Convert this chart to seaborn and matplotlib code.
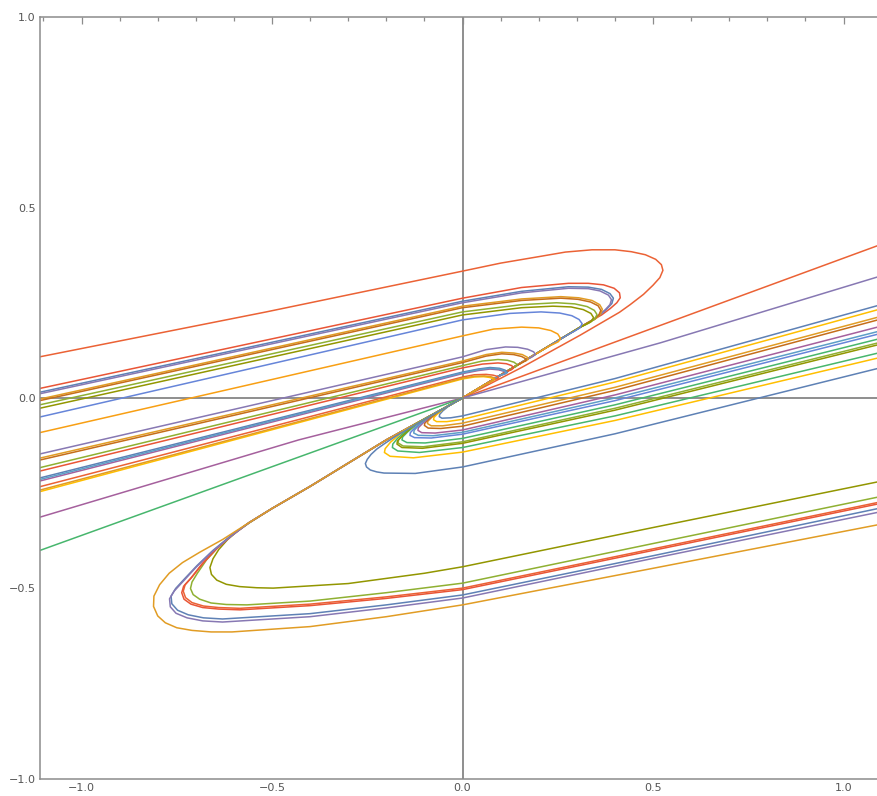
import pandas as pd
import matplotlib
matplotlib.use("Agg")
import matplotlib.pyplot as plt
from matplotlib.ticker import MultipleLocator
import seaborn as sns

# colours (Mathematica default plot palette)
BLUE, ORANGE, GREEN, RED = "#5E81B5", "#E19C24", "#8FB032", "#EB6235"
PURPLE, BROWN, CYAN, YELLOW = "#8778B3", "#C56E1A", "#5D9EC7", "#FFBF00"
MAGENTA, OLIVE, RED2, BLUE2 = "#A5609D", "#929600", "#E95536", "#6685D9"
ORANGE2, GREEN2 = "#F89F13", "#47B66D"

# upper family: arm from the left edge, hairpin on the right, back into the origin
a01 = [(-1.11, 0.108), (-0.515, 0.226), (0, 0.333), (0.1, 0.354), (0.206, 0.372), (0.27, 0.383),
       (0.34, 0.389), (0.4, 0.389), (0.443, 0.384), (0.48, 0.376), (0.507, 0.364), (0.522, 0.35),
       (0.526, 0.335), (0.518, 0.316), (0.5, 0.296), (0.475, 0.272), (0.44, 0.245), (0.412, 0.225),
       (0.309, 0.165), (0.155, 0.08), (0, 0)]
a02 = [(-1.11, 0.025), (0, 0.262), (0.155, 0.29), (0.278, 0.301), (0.33, 0.301), (0.37, 0.297),
       (0.398, 0.288), (0.412, 0.276), (0.414, 0.263), (0.405, 0.25), (0.388, 0.235), (0.365, 0.218),
       (0.309, 0.186), (0.206, 0.124), (0.103, 0.062), (0, 0)]
a03 = [(-1.11, 0.015), (0, 0.254), (0.155, 0.28), (0.278, 0.292), (0.33, 0.291), (0.365, 0.285),
       (0.387, 0.274), (0.396, 0.262), (0.392, 0.248), (0.378, 0.233), (0.35, 0.21), (0.309, 0.186),
       (0.206, 0.124), (0.103, 0.062), (0, 0)]
a03b = [(-1.11, 0.011), (0, 0.25), (0.155, 0.276), (0.278, 0.288), (0.33, 0.287), (0.361, 0.281),
        (0.383, 0.27), (0.391, 0.258), (0.387, 0.245), (0.374, 0.231), (0.348, 0.209), (0.309, 0.186),
        (0.206, 0.124), (0.103, 0.062), (0, 0)]
a04 = [(-1.11, -0.003), (0, 0.241), (0.155, 0.26), (0.258, 0.266), (0.305, 0.263), (0.34, 0.256),
       (0.36, 0.245), (0.367, 0.233), (0.362, 0.22), (0.348, 0.207), (0.33, 0.198), (0.309, 0.186),
       (0.206, 0.124), (0.103, 0.062), (0, 0)]
a04b = [(-1.11, -0.007), (0, 0.237), (0.155, 0.256), (0.258, 0.262), (0.303, 0.259), (0.336, 0.252),
        (0.356, 0.242), (0.363, 0.23), (0.358, 0.218), (0.345, 0.206), (0.33, 0.198), (0.309, 0.186),
        (0.206, 0.124), (0.103, 0.062), (0, 0)]
a05 = [(-1.11, -0.018), (0, 0.226), (0.155, 0.245), (0.247, 0.25), (0.295, 0.247), (0.327, 0.24),
       (0.346, 0.23), (0.353, 0.219), (0.347, 0.207), (0.332, 0.197), (0.309, 0.186), (0.206, 0.124),
       (0.103, 0.062), (0, 0)]
a06 = [(-1.11, -0.027), (0, 0.218), (0.155, 0.237), (0.237, 0.241), (0.285, 0.239), (0.317, 0.232),
       (0.337, 0.222), (0.344, 0.211), (0.337, 0.2), (0.322, 0.192), (0.309, 0.186), (0.206, 0.124),
       (0.103, 0.062), (0, 0)]
a07 = [(-1.11, -0.05), (0, 0.205), (0.124, 0.222), (0.206, 0.226), (0.255, 0.223), (0.287, 0.216),
       (0.306, 0.206), (0.314, 0.195), (0.308, 0.184), (0.293, 0.175), (0.278, 0.167), (0.206, 0.124),
       (0.103, 0.062), (0, 0)]
a08 = [(-1.11, -0.091), (0, 0.163), (0.082, 0.181), (0.155, 0.186), (0.2, 0.184), (0.232, 0.177),
       (0.25, 0.168), (0.257, 0.157), (0.252, 0.148), (0.238, 0.141), (0.227, 0.136), (0.103, 0.062),
       (0, 0)]
a09 = [(-1.11, -0.147), (0, 0.108), (0.062, 0.127), (0.113, 0.134), (0.145, 0.133), (0.171, 0.128),
       (0.187, 0.121), (0.191, 0.114), (0.183, 0.108), (0.165, 0.099), (0.103, 0.062), (0, 0)]
a10 = [(-1.11, -0.158), (0, 0.097), (0.062, 0.114), (0.103, 0.12), (0.135, 0.118), (0.157, 0.114),
       (0.17, 0.107), (0.172, 0.101), (0.163, 0.097), (0.103, 0.062), (0, 0)]
a10b = [(-1.11, -0.163), (0, 0.093), (0.062, 0.11), (0.103, 0.116), (0.134, 0.114), (0.155, 0.109),
        (0.166, 0.103), (0.167, 0.098), (0.158, 0.094), (0.103, 0.062), (0, 0)]
a11 = [(-1.11, -0.183), (0, 0.085), (0.052, 0.097), (0.093, 0.101), (0.118, 0.099), (0.135, 0.094),
       (0.143, 0.088), (0.141, 0.083), (0.13, 0.078), (0.103, 0.062), (0, 0)]
a12 = [(-1.11, -0.192), (0, 0.079), (0.052, 0.089), (0.093, 0.092), (0.115, 0.09), (0.129, 0.085),
       (0.134, 0.079), (0.128, 0.074), (0.115, 0.069), (0.06, 0.036), (0, 0)]
a13 = [(-1.11, -0.21), (0, 0.068), (0.041, 0.076), (0.072, 0.08), (0.097, 0.078), (0.112, 0.073),
       (0.118, 0.067), (0.112, 0.064), (0.1, 0.06), (0.06, 0.036), (0, 0)]
a13b = [(-1.11, -0.218), (0, 0.064), (0.041, 0.072), (0.072, 0.076), (0.095, 0.074), (0.109, 0.07),
        (0.114, 0.065), (0.108, 0.062), (0.098, 0.059), (0.06, 0.036), (0, 0)]
a13c = [(-1.11, -0.214), (0, 0.066), (0.041, 0.074), (0.072, 0.078), (0.096, 0.076), (0.11, 0.071),
        (0.116, 0.066), (0.11, 0.063), (0.099, 0.06), (0.06, 0.036), (0, 0)]
a14 = [(-1.11, -0.233), (0, 0.055), (0.031, 0.061), (0.062, 0.062), (0.08, 0.06), (0.091, 0.057),
       (0.095, 0.053), (0.09, 0.05), (0.08, 0.048), (0.04, 0.024), (0, 0)]
a15 = [(-1.11, -0.246), (0, 0.05), (0.031, 0.055), (0.055, 0.056), (0.071, 0.054), (0.08, 0.051),
       (0.082, 0.047), (0.076, 0.044), (0.06, 0.036), (0, 0)]
a15b = [(-1.11, -0.242), (0, 0.052), (0.031, 0.057), (0.058, 0.058), (0.074, 0.056), (0.083, 0.053),
        (0.085, 0.049), (0.078, 0.045), (0.06, 0.036), (0, 0)]

# straight lines through the origin
s_red = [(0, 0), (1.12, 0.411)]
s_purple = [(0, 0), (0.52, 0.145), (1.12, 0.327)]
s_magenta = [(-1.12, -0.316), (-0.43, -0.11), (0, 0)]
s_green = [(-1.12, -0.404), (0, 0)]

# lower-left family: down the diagonal, big hairpin, out to the right edge
c_olive = [(0, 0), (-0.2, -0.11), (-0.4, -0.232), (-0.5, -0.29), (-0.56, -0.328), (-0.59, -0.349),
           (-0.617, -0.372), (-0.64, -0.398), (-0.655, -0.422), (-0.663, -0.445), (-0.659, -0.463),
           (-0.645, -0.478), (-0.62, -0.489), (-0.585, -0.495), (-0.54, -0.498), (-0.497, -0.499),
           (-0.3, -0.487), (-0.1, -0.46), (0, -0.443), (0.5, -0.34), (1.12, -0.214)]
c_green = [(0, 0), (-0.2, -0.11), (-0.4, -0.232), (-0.5, -0.29), (-0.56, -0.327), (-0.6, -0.355),
           (-0.64, -0.39), (-0.672, -0.425), (-0.696, -0.46), (-0.71, -0.483), (-0.714, -0.5),
           (-0.707, -0.516), (-0.69, -0.528), (-0.66, -0.538), (-0.62, -0.542), (-0.566, -0.543),
           (-0.4, -0.533), (-0.2, -0.511), (0, -0.486), (0.5, -0.382), (1.12, -0.254)]
c_red = [(0, 0), (-0.2, -0.11), (-0.4, -0.232), (-0.5, -0.29), (-0.56, -0.327), (-0.605, -0.36),
         (-0.645, -0.395), (-0.68, -0.432), (-0.71, -0.47), (-0.728, -0.49), (-0.733, -0.507),
         (-0.727, -0.524), (-0.71, -0.537), (-0.68, -0.546), (-0.64, -0.55), (-0.584, -0.552),
         (-0.4, -0.541), (-0.2, -0.522), (0, -0.499), (0.5, -0.396), (1.12, -0.268)]
c_red2 = [(0, 0), (-0.2, -0.11), (-0.4, -0.232), (-0.5, -0.29), (-0.56, -0.327), (-0.607, -0.362),
          (-0.648, -0.398), (-0.684, -0.436), (-0.714, -0.474), (-0.732, -0.494), (-0.737, -0.511),
          (-0.731, -0.528), (-0.713, -0.541), (-0.682, -0.55), (-0.64, -0.554), (-0.584, -0.556),
          (-0.4, -0.545), (-0.2, -0.526), (0, -0.503), (0.5, -0.4), (1.12, -0.272)]
c_blue = [(0, 0), (-0.2, -0.11), (-0.4, -0.232), (-0.5, -0.29), (-0.56, -0.327), (-0.61, -0.363),
          (-0.655, -0.4), (-0.697, -0.44), (-0.73, -0.475), (-0.753, -0.5), (-0.765, -0.52),
          (-0.763, -0.54), (-0.748, -0.557), (-0.72, -0.569), (-0.68, -0.577), (-0.63, -0.58),
          (-0.4, -0.566), (-0.2, -0.543), (0, -0.517), (0.5, -0.414), (1.12, -0.284)]
c_purple = [(0, 0), (-0.2, -0.11), (-0.4, -0.232), (-0.5, -0.29), (-0.56, -0.327), (-0.613, -0.367),
            (-0.659, -0.405), (-0.701, -0.446), (-0.734, -0.482), (-0.757, -0.507), (-0.769, -0.527),
            (-0.767, -0.548), (-0.752, -0.565), (-0.723, -0.577), (-0.682, -0.585), (-0.63, -0.588),
            (-0.4, -0.574), (-0.2, -0.551), (0, -0.525), (0.5, -0.421), (1.12, -0.294)]
c_orange = [(0, 0), (-0.2, -0.11), (-0.4, -0.232), (-0.5, -0.29), (-0.56, -0.327), (-0.629, -0.371),
            (-0.69, -0.405), (-0.735, -0.432), (-0.77, -0.46), (-0.795, -0.49), (-0.81, -0.52),
            (-0.811, -0.547), (-0.8, -0.572), (-0.78, -0.59), (-0.75, -0.603), (-0.71, -0.61),
            (-0.66, -0.614), (-0.605, -0.614), (-0.4, -0.6), (-0.2, -0.574), (0, -0.543),
            (0.5, -0.447), (1.12, -0.327)]

# lower-right family: small hairpins under the origin, out to the right edge
b01 = [(0, 0), (-0.036, -0.021), (-0.052, -0.034), (-0.06, -0.043), (-0.061, -0.049), (-0.054, -0.053),
       (-0.031, -0.052), (0, -0.047), (0.4, 0.051), (1.12, 0.251)]
b02 = [(0, 0), (-0.046, -0.026), (-0.066, -0.042), (-0.075, -0.051), (-0.076, -0.057), (-0.068, -0.062),
       (-0.041, -0.062), (0, -0.056), (0.4, 0.042), (1.12, 0.24)]
b03 = [(0, 0), (-0.057, -0.032), (-0.08, -0.05), (-0.091, -0.061), (-0.092, -0.067), (-0.082, -0.073),
       (-0.052, -0.073), (0, -0.066), (0.4, 0.028), (1.12, 0.22)]
b04 = [(0, 0), (-0.062, -0.035), (-0.088, -0.055), (-0.099, -0.066), (-0.1, -0.072), (-0.09, -0.079),
       (-0.057, -0.08), (0, -0.074), (0.4, 0.02), (1.12, 0.213)]
b05 = [(0, 0), (-0.077, -0.043), (-0.104, -0.066), (-0.116, -0.078), (-0.117, -0.085), (-0.107, -0.091),
       (-0.072, -0.092), (0, -0.084), (0.4, 0.008), (1.12, 0.194)]
b06 = [(0, 0), (-0.088, -0.049), (-0.115, -0.072), (-0.127, -0.085), (-0.128, -0.092), (-0.116, -0.098),
       (-0.077, -0.099), (0, -0.09), (0.4, 0.0), (1.12, 0.182)]
b07 = [(0, 0), (-0.098, -0.055), (-0.125, -0.078), (-0.137, -0.091), (-0.138, -0.098), (-0.126, -0.104),
       (-0.082, -0.105), (0, -0.095), (0.4, -0.007), (1.12, 0.175)]
b08 = [(0, 0), (-0.113, -0.063), (-0.144, -0.089), (-0.157, -0.102), (-0.159, -0.11), (-0.146, -0.117),
       (-0.098, -0.118), (0, -0.106), (0.4, -0.018), (1.12, 0.162)]
b09 = [(0, 0), (-0.124, -0.069), (-0.155, -0.096), (-0.168, -0.11), (-0.169, -0.118), (-0.156, -0.126),
       (-0.103, -0.128), (0, -0.115), (0.4, -0.027), (1.12, 0.152)]
b09b = [(0, 0), (-0.127, -0.071), (-0.158, -0.099), (-0.171, -0.113), (-0.172, -0.121), (-0.159, -0.13),
        (-0.105, -0.132), (0, -0.119), (0.4, -0.032), (1.12, 0.147)]
b10 = [(0, 0), (-0.139, -0.078), (-0.17, -0.105), (-0.183, -0.121), (-0.184, -0.13), (-0.17, -0.139),
       (-0.113, -0.143), (0, -0.13), (0.4, -0.047), (1.12, 0.125)]
b11 = [(0, 0), (-0.155, -0.087), (-0.189, -0.116), (-0.203, -0.133), (-0.205, -0.143), (-0.19, -0.153),
       (-0.129, -0.157), (0, -0.142), (0.4, -0.059), (1.12, 0.112)]
b12 = [(0, 0), (-0.103, -0.058), (-0.175, -0.1), (-0.205, -0.12), (-0.225, -0.134), (-0.24, -0.148),
       (-0.25, -0.161), (-0.255, -0.172), (-0.252, -0.181), (-0.242, -0.189), (-0.225, -0.194),
       (-0.206, -0.197), (-0.124, -0.198), (0, -0.181), (0.4, -0.094), (1.12, 0.085)]

curves = [
    ("a01", RED, a01), ("a02", RED2, a02), ("a03", BLUE, a03), ("a03b", PURPLE, a03b),
    ("a04", ORANGE, a04), ("a04b", BROWN, a04b), ("a05", GREEN, a05), ("a06", OLIVE, a06),
    ("a07", BLUE2, a07), ("a08", ORANGE2, a08), ("a09", PURPLE, a09), ("a10", ORANGE, a10),
    ("a10b", BROWN, a10b), ("a11", GREEN, a11), ("a12", RED2, a12), ("a13", BLUE, a13),
    ("a13b", MAGENTA, a13b), ("a13c", CYAN, a13c), ("a14", RED, a14), ("a15", YELLOW, a15),
    ("a15b", ORANGE, a15b),
    ("s_red", RED, s_red), ("s_purple", PURPLE, s_purple), ("s_magenta", MAGENTA, s_magenta),
    ("s_green", GREEN2, s_green),
    ("c_olive", OLIVE, c_olive), ("c_green", GREEN, c_green), ("c_red", RED, c_red),
    ("c_red2", RED2, c_red2), ("c_blue", BLUE, c_blue), ("c_purple", PURPLE, c_purple),
    ("c_orange", ORANGE, c_orange),
    ("b01", BLUE, b01), ("b02", YELLOW, b02), ("b03", ORANGE, b03), ("b04", BROWN, b04),
    ("b05", MAGENTA, b05), ("b06", CYAN, b06), ("b07", BLUE2, b07), ("b08", GREEN2, b08),
    ("b09", GREEN, b09), ("b09b", OLIVE, b09b), ("b10", GREEN2, b10), ("b11", YELLOW, b11),
    ("b12", BLUE, b12),
]

rows = []
for name, color, pts in curves:
    for i, (x, y) in enumerate(pts):
        rows.append({"curve": name, "step": i, "x": x, "y": y})
df = pd.DataFrame(rows)
palette = {name: color for name, color, _ in curves}

sns.set_style("white")

fig = plt.figure(figsize=(8.78, 7.96), dpi=100)
ax = fig.add_axes([40 / 878, 17 / 796, 841.6 / 878, 762 / 796])

# axes through the origin
ax.axhline(0, color="#707070", lw=1.1, zorder=0.5)
ax.axvline(0, color="#707070", lw=1.1, zorder=0.5)

sns.lineplot(data=df, x="x", y="y", hue="curve", hue_order=[c[0] for c in curves],
             palette=palette, sort=False, estimator=None, legend=False,
             linewidth=1.1, ax=ax)

ax.set_xlim(-1.109, 1.1)
ax.set_ylim(-1.0, 1.0)
ax.set_xlabel("")
ax.set_ylabel("")

frame = "#8c8c8c"
for sp in ax.spines.values():
    sp.set_visible(True)
    sp.set_color(frame)
    sp.set_linewidth(1.1)

ax.set_xticks([-1.0, -0.5, 0.0, 0.5, 1.0])
ax.set_xticklabels(["\u22121.0", "\u22120.5", "0.0", "0.5", "1.0"])
ax.set_yticks([-1.0, -0.5, 0.0, 0.5, 1.0])
ax.set_yticklabels(["\u22121.0", "\u22120.5", "0.0", "0.5", "1.0"])
ax.xaxis.set_minor_locator(MultipleLocator(0.1))
ax.yaxis.set_minor_locator(MultipleLocator(0.1))
ax.tick_params(which="both", direction="in", top=True, right=False, color=frame,
               labelcolor="#555555", labelsize=8, width=0.9)
ax.tick_params(which="major", length=5, pad=3)
ax.tick_params(which="minor", length=3)

fig.savefig("out.png", dpi=100)
